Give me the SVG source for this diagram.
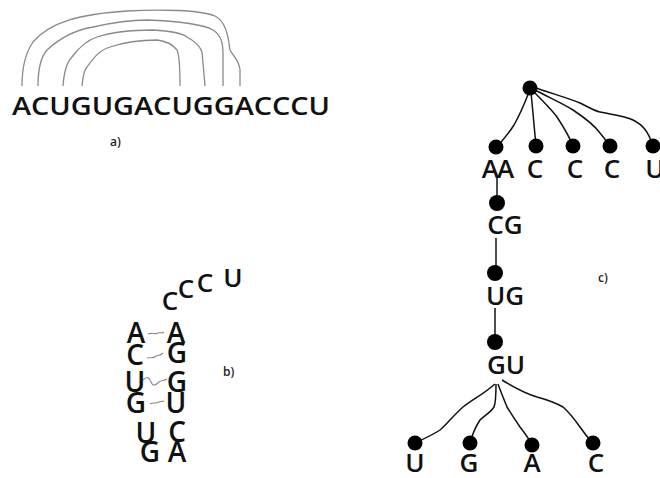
<svg xmlns="http://www.w3.org/2000/svg" width="660" height="478" viewBox="0 0 660 478">
<style>
.seq{font-family:"Open Sans","DejaVu Sans",sans-serif;fill:#111;font-weight:600;}
.lbl{font-family:"Open Sans","DejaVu Sans",sans-serif;font-size:12px;fill:#222;font-weight:600;}
.arc{fill:none;stroke:#8a8a8a;stroke-width:1.3;}
.bond{fill:none;stroke:#8a8a8a;stroke-width:1.1;}
.edge{fill:none;stroke:#111;stroke-width:1.5;}
.dot{fill:#000;}
.big{font-size:28px;}
.mid{font-size:26px;}
</style>
<rect width="660" height="478" fill="#fff"/>

<!-- a) linear sequence with arcs -->
<g id="a-arcs" class="connectors">
<path class="arc" d="M22,86 C22,70 24,55 33,42 C50,22 80,14 127,11 C160,9 200,10 215,16 C226,22 228,35 230,50 C233,56 239,60 240,70 L240,86"/>
<path class="arc" d="M38,86 C38,70 40,58 47,50 C60,38 75,30 93,27 C115,22 130,20 147,20 C180,21 205,25 213,30 C222,36 223,44 223,55 L223,86"/>
<path class="arc" d="M63,86 C64,72 67,62 72,57 C80,46 88,40 97,37 C115,31 135,30 153,30 C170,31 182,33 187,37 C196,42 200,46 202,52 L205,86"/>
<path class="arc" d="M82,86 C83,75 84,70 87,67 C94,57 100,50 110,47 C125,42 143,40 157,40 C166,41 173,45 177,50 C180,56 180,70 180,86"/>
</g>
<g id="a-seq">
<text class="seq" x="12" y="115" font-size="26" textLength="318" lengthAdjust="spacingAndGlyphs">ACUGUGACUGGACCCU</text>
</g>
<text class="lbl" x="110" y="146">a)</text>

<!-- b) hairpin -->
<g id="b-bonds" class="connectors">
<path class="bond" d="M148,334 C152,332 155,335 158,333 C160,332 162,334 164,332"/>
<path class="bond" d="M147,358 C151,357 153,359 156,356 C158,355 160,356 163,353"/>
<path class="bond" d="M143,380 C147,376 149,377 151,382 C153,387 156,385 159,382 C161,380 164,381 167,379"/>
<path class="bond" d="M150,404 C153,402 156,404 159,402 C161,401 162,402 164,401"/>
</g>
<g id="b-left">
<text class="seq big" x="136" y="343" text-anchor="middle">A</text>
<text class="seq big" x="135" y="365" text-anchor="middle">C</text>
<text class="seq big" x="135" y="392" text-anchor="middle">U</text>
<text class="seq big" x="136" y="413" text-anchor="middle">G</text>
<text class="seq big" x="146" y="443" text-anchor="middle">U</text>
<text class="seq big" x="150" y="462" text-anchor="middle">G</text>
</g>
<g id="b-right">
<text class="seq big" x="176" y="343" text-anchor="middle">A</text>
<text class="seq big" x="177" y="363" text-anchor="middle">G</text>
<text class="seq big" x="177" y="392" text-anchor="middle">G</text>
<text class="seq big" x="176" y="413" text-anchor="middle">U</text>
<text class="seq big" x="177" y="442" text-anchor="middle">C</text>
<text class="seq big" x="177" y="462" text-anchor="middle">A</text>
</g>
<g id="b-tail">
<text class="seq" font-size="26" x="170" y="310" text-anchor="middle">C</text>
<text class="seq" font-size="26" x="186" y="298" text-anchor="middle">C</text>
<text class="seq" font-size="26" x="205" y="292" text-anchor="middle">C</text>
<text class="seq" font-size="26" x="233" y="287" text-anchor="middle">U</text>
</g>
<text class="lbl" x="223" y="376">b)</text>

<!-- c) tree -->
<g id="c-edges" class="connectors">
<path class="edge" d="M529,92 C524,105 518,118 514,125 C509,133 503,140 497,147"/>
<path class="edge" d="M531,92 L536,146"/>
<path class="edge" d="M532,90 C542,100 552,110 557,117 C563,126 568,134 573,146"/>
<path class="edge" d="M533,89 C548,97 562,103 573,110 C585,118 595,126 600,133 C604,138 607,141 610,146"/>
<path class="edge" d="M533,87 C550,93 568,98 580,103 C590,108 595,111 600,112 C615,115 625,116 633,120 C643,125 648,131 653,146"/>
<path class="edge" d="M497,178 L497,203"/>
<path class="edge" d="M496,238 L496,273"/>
<path class="edge" d="M495,308 L495,342"/>
<path class="edge" d="M495,384 C485,393 472,400 463,407 C452,417 446,425 440,430 C434,434 428,437 415,443"/>
<path class="edge" d="M496,384 C496,395 496,402 494,407 C490,413 484,416 480,420 C476,426 473,432 470,443"/>
<path class="edge" d="M498,384 C502,395 505,402 507,407 C512,415 516,421 520,427 C524,432 528,437 532,445"/>
<path class="edge" d="M502,380 C515,388 527,394 537,397 C548,400 556,403 563,407 C570,413 575,420 580,427 C584,433 588,438 593,443"/>
</g>
<g id="n-root"><circle class="dot" cx="530" cy="88" r="7.5"/></g>
<g id="n-AA"><circle class="dot" cx="496" cy="147" r="7.5"/><text class="seq mid" x="497" y="178" text-anchor="middle" letter-spacing="-2">AA</text></g>
<g id="n-C1"><circle class="dot" cx="536" cy="146" r="7.5"/><text class="seq mid" x="535" y="178" text-anchor="middle">C</text></g>
<g id="n-C2"><circle class="dot" cx="573" cy="146" r="7.5"/><text class="seq mid" x="575" y="178" text-anchor="middle">C</text></g>
<g id="n-C3"><circle class="dot" cx="610" cy="146" r="7.5"/><text class="seq mid" x="612" y="178" text-anchor="middle">C</text></g>
<g id="n-U"><circle class="dot" cx="653" cy="146" r="7.5"/><text class="seq mid" x="655" y="178" text-anchor="middle">U</text></g>
<g id="n-CG"><circle class="dot" cx="497" cy="203" r="8"/><text class="seq mid" x="505" y="234" text-anchor="middle">CG</text></g>
<g id="n-UG"><circle class="dot" cx="495" cy="273" r="8"/><text class="seq mid" x="505" y="305" text-anchor="middle">UG</text></g>
<g id="n-GU"><circle class="dot" cx="495" cy="342" r="8"/><text class="seq mid" x="506" y="374" text-anchor="middle">GU</text></g>
<g id="n-lU"><circle class="dot" cx="415" cy="443" r="7.5"/><text class="seq mid" x="415" y="472" text-anchor="middle">U</text></g>
<g id="n-lG"><circle class="dot" cx="470" cy="443" r="7.5"/><text class="seq mid" x="469" y="472" text-anchor="middle">G</text></g>
<g id="n-lA"><circle class="dot" cx="532" cy="445" r="7.5"/><text class="seq mid" x="532" y="472" text-anchor="middle">A</text></g>
<g id="n-lC"><circle class="dot" cx="593" cy="443" r="7.5"/><text class="seq mid" x="596" y="472" text-anchor="middle">C</text></g>
<text class="lbl" x="598" y="282">c)</text>
</svg>
